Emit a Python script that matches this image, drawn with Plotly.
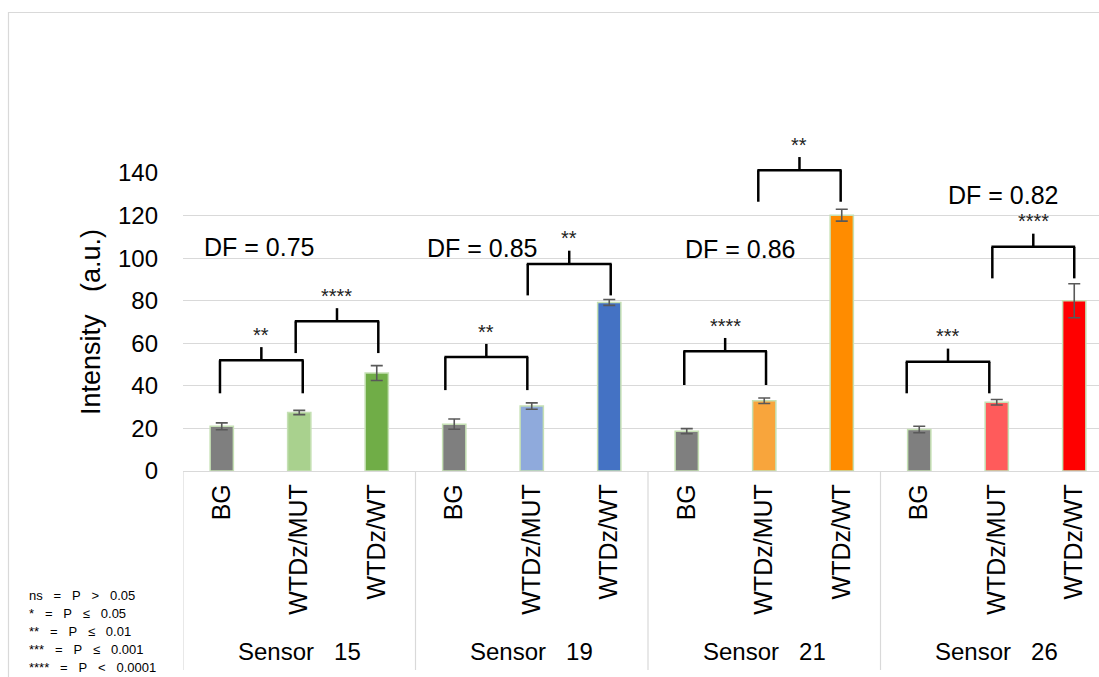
import plotly.graph_objects as go

# ---------------- data ----------------
sensors = ["Sensor\u00a0\u00a0\u00a015", "Sensor\u00a0\u00a0\u00a019", "Sensor\u00a0\u00a0\u00a021", "Sensor\u00a0\u00a0\u00a026"]
conditions = ["BG", "WTDz/MUT", "WTDz/WT"]
intensity = [21.0, 27.5, 46.0, 22.0, 30.5, 79.2, 18.7, 33.0, 120.2, 19.5, 32.3, 80.0]
errors = [1.6, 1.0, 3.5, 2.4, 1.5, 1.4, 1.2, 1.3, 2.8, 1.5, 1.3, 8.0]
df_values = ["0.75", "0.85", "0.86", "0.82"]
df_y = [105.4, 104.7, 104.5, 129.6]
# significance brackets: (left bar, right bar, bracket height, leg bottom, label)
brackets = [
    (0, 1, 52.0, 36.5, "**"),
    (1, 2, 70.3, 55.4, "****"),
    (3, 4, 53.5, 38.0, "**"),
    (4, 5, 97.3, 82.5, "**"),
    (6, 7, 56.3, 40.4, "****"),
    (7, 8, 141.3, 126.5, "**"),
    (9, 10, 51.3, 36.5, "***"),
    (10, 11, 105.3, 90.5, "****"),
]
SP = "\u00a0\u00a0\u00a0"
legend_lines = [
    SP.join(["ns", "=", "P", ">", "0.05"]),
    SP.join(["*", "=", "P", "\u2264", "0.05"]),
    SP.join(["**", "=", "P", "\u2264", "0.01"]),
    SP.join(["***", "=", "P", "\u2264", "0.001"]),
    SP.join(["****", "=", "P", "<", "0.0001"]),
]
y_range = [0, 140]

# ---------------- styles ----------------
bar_colors = ["#7f7f7f", "#a9d18e", "#70ad47",
              "#7f7f7f", "#8faadc", "#4472c4",
              "#7f7f7f", "#f8a53c", "#ff8c00",
              "#7f7f7f", "#ff5b5b", "#ff0000"]
bracket_offsets = [(-0.023, 0.045), (-0.046, 0.02), (-0.115, -0.057), (-0.052, 0.019),
                   (-0.032, 0.023), (-0.077, -0.014), (-0.162, -0.096), (-0.057, 0.0)]
df_x_offset = [-0.52, -0.64, -0.31, 0.08]
FONT = "Liberation Sans, Arial, sans-serif"
GRID = "#d9d9d9"

W, H = 1099, 677
L, R, T, B = 183, 0, 173, 206
plot_w = W - L - R
plot_h = H - T - B


def px_to_paper_x(px):
    return (px - L) / plot_w


def px_to_paper_y(py):
    return (H - B - py) / plot_h


def val_to_paper_y(v):
    return (v - y_range[0]) / (y_range[1] - y_range[0])


n = len(intensity)
xs = list(range(n))
tick_text = [conditions[i % 3] for i in range(n)]

fig = go.Figure()
fig.add_trace(go.Bar(
    x=xs, y=intensity, width=0.3,
    marker=dict(color=bar_colors, line=dict(color="#c5e0b4", width=1.5)),
    error_y=dict(type="data", array=errors, visible=True, color="#595959", thickness=1.6, width=6),
    showlegend=False, cliponaxis=False, hoverinfo="skip",
))

shapes = []
annotations = []

# brackets (paper y so they are not clipped above the axis range)
for (a, b, yh, yl, lab), (dl, dr) in zip(brackets, bracket_offsets):
    xl = a + dl
    xr = b + dr
    xm = (xl + xr) / 2
    line = dict(color="black", width=2.5)
    ph, pl, pt = val_to_paper_y(yh), val_to_paper_y(yl), val_to_paper_y(yh + 6.2)
    shapes.append(dict(type="line", xref="x", yref="paper", x0=xl, x1=xl, y0=pl, y1=ph, line=line))
    shapes.append(dict(type="line", xref="x", yref="paper", x0=xr, x1=xr, y0=pl, y1=ph, line=line))
    shapes.append(dict(type="line", xref="x", yref="paper", x0=xl - 0.012, x1=xr + 0.012, y0=ph, y1=ph, line=line))
    shapes.append(dict(type="line", xref="x", yref="paper", x0=xm, x1=xm, y0=ph, y1=pt, line=line))
    annotations.append(dict(x=xm, y=val_to_paper_y(yh + 12.0), xref="x", yref="paper", text=lab, showarrow=False,
                            font=dict(family=FONT, size=20, color="#222"), xanchor="center", yanchor="middle"))

# DF labels
for g, (v, yv) in enumerate(zip(df_values, df_y)):
    annotations.append(dict(x=3 * g + 1 + df_x_offset[g], y=val_to_paper_y(yv), xref="x", yref="paper",
                            text="DF = " + v, showarrow=False,
                            font=dict(family=FONT, size=25, color="black"),
                            xanchor="center", yanchor="middle"))

# group labels & dividers
for g, s in enumerate(sensors):
    annotations.append(dict(x=3 * g + 1, y=px_to_paper_y(651), xref="x", yref="paper", text=s,
                            showarrow=False, font=dict(family=FONT, size=24, color="black"),
                            xanchor="center", yanchor="middle"))
for g in range(len(sensors) + 1):
    shapes.append(dict(type="line", xref="x", yref="paper", x0=3 * g - 0.5, x1=3 * g - 0.5,
                       y0=0, y1=px_to_paper_y(670), line=dict(color=GRID, width=1.2)))

# y axis title
annotations.append(dict(x=px_to_paper_x(91), y=px_to_paper_y(322), xref="paper", yref="paper",
                        text="Intensity\u00a0\u00a0\u00a0(a.u.)", textangle=-90, showarrow=False,
                        font=dict(family=FONT, size=27, color="black"), xanchor="center", yanchor="middle"))

# significance legend text
for i, t in enumerate(legend_lines):
    annotations.append(dict(x=px_to_paper_x(27), y=px_to_paper_y(595 + 18.0 * i), xref="paper", yref="paper",
                            text=t, showarrow=False, font=dict(family=FONT, size=13, color="black"),
                            xanchor="left", yanchor="middle"))

# outer chart border
shapes.append(dict(type="rect", xref="paper", yref="paper",
                   x0=px_to_paper_x(8.5), x1=px_to_paper_x(1110),
                   y0=px_to_paper_y(690), y1=px_to_paper_y(12.5),
                   line=dict(color=GRID, width=1.2), layer="below"))

fig.update_layout(
    width=W, height=H,
    margin=dict(l=L, r=R, t=T, b=B, pad=0),
    paper_bgcolor="white", plot_bgcolor="white",
    bargap=0,
    shapes=shapes, annotations=annotations,
    font=dict(family=FONT, color="black"),
    hovermode=False,
    xaxis=dict(
        range=[-0.5, -0.5 + plot_w / 77.5],
        tickmode="array", tickvals=xs, ticktext=tick_text, tickangle=-90,
        tickfont=dict(family=FONT, size=25, color="black"),
        showgrid=False, zeroline=False, showline=True, linecolor=GRID, linewidth=1.2,
        ticks="", ticklabelstandoff=2, fixedrange=True,
    ),
    yaxis=dict(
        range=y_range, dtick=20, tick0=0,
        tickfont=dict(family=FONT, size=24, color="black"),
        showgrid=True, gridcolor=GRID, gridwidth=1.2,
        zeroline=False, showline=False, ticks="", ticklabelstandoff=24, fixedrange=True,
    ),
)

fig.write_html("out.html", config={"displayModeBar": False, "staticPlot": True},
               post_script="document.body.style.margin='0';document.body.style.overflow='hidden';")
